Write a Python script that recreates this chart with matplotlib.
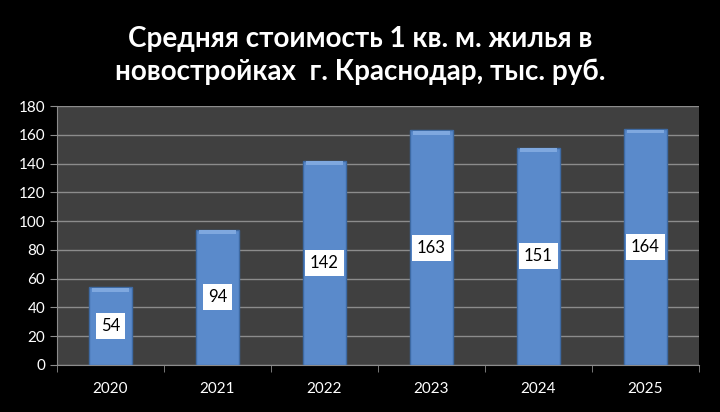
import matplotlib.pyplot as plt
import numpy as np

# данные
years = ['2020', '2021', '2022', '2023', '2024', '2025']
prices = [54, 94, 142, 163, 151, 164]
y_ticks = list(range(0, 181, 20))

plt.rcParams['font.family'] = ['Lato', 'DejaVu Sans']

fig = plt.figure(figsize=(7.2, 4.12), dpi=100, facecolor='black')
ax = fig.add_axes([57 / 720, 1 - 365 / 412, 642 / 720, 259 / 412])
ax.set_facecolor('#404040')

x = np.arange(len(years))
bars = ax.bar(x, prices, width=0.4, color='#5A8ACB', edgecolor='#3E6AA3',
              linewidth=1.0, zorder=3)
# светлая фаска сверху
ax.bar(x, [2.5] * len(prices), bottom=np.array(prices) - 3, width=0.34,
       color='#7FA8DF', linewidth=0, zorder=4)

for xi, v in zip(x, prices):
    ax.text(xi, v / 2, str(v), ha='center', va='center', fontsize=12,
            color='black', zorder=5,
            bbox=dict(boxstyle='square,pad=0.3', facecolor='white', edgecolor='none'))

ax.set_xlim(-0.5, len(years) - 0.5)
ax.set_ylim(0, 180)
ax.set_yticks(y_ticks)
ax.set_xticks(x)
ax.set_xticklabels(years)
ax.set_xticks(np.arange(-0.5, len(years)), minor=True)
ax.tick_params(axis='x', which='major', length=0, pad=12, colors='white', labelsize=11)
ax.tick_params(axis='x', which='minor', length=5, color='#8c8c8c')
ax.tick_params(axis='y', length=5, color='#8c8c8c', colors='white', labelsize=11)
ax.tick_params(axis='y', color='#8c8c8c')

ax.grid(axis='y', color='#8c8c8c', linewidth=1, zorder=1)
for side in ['top', 'right']:
    ax.spines[side].set_visible(False)
ax.spines['left'].set_color('#8c8c8c')
ax.spines['bottom'].set_color('#8c8c8c')

fig.text(0.5, 1 - 39 / 412, 'Средняя стоимость 1 кв. м. жилья в', ha='center',
         va='center', color='white', fontsize=20, fontweight='bold')
fig.text(0.5, 1 - 72 / 412, 'новостройках  г. Краснодар, тыс. руб.', ha='center',
         va='center', color='white', fontsize=20, fontweight='bold')

fig.savefig('out.png', dpi=100, facecolor='black')
